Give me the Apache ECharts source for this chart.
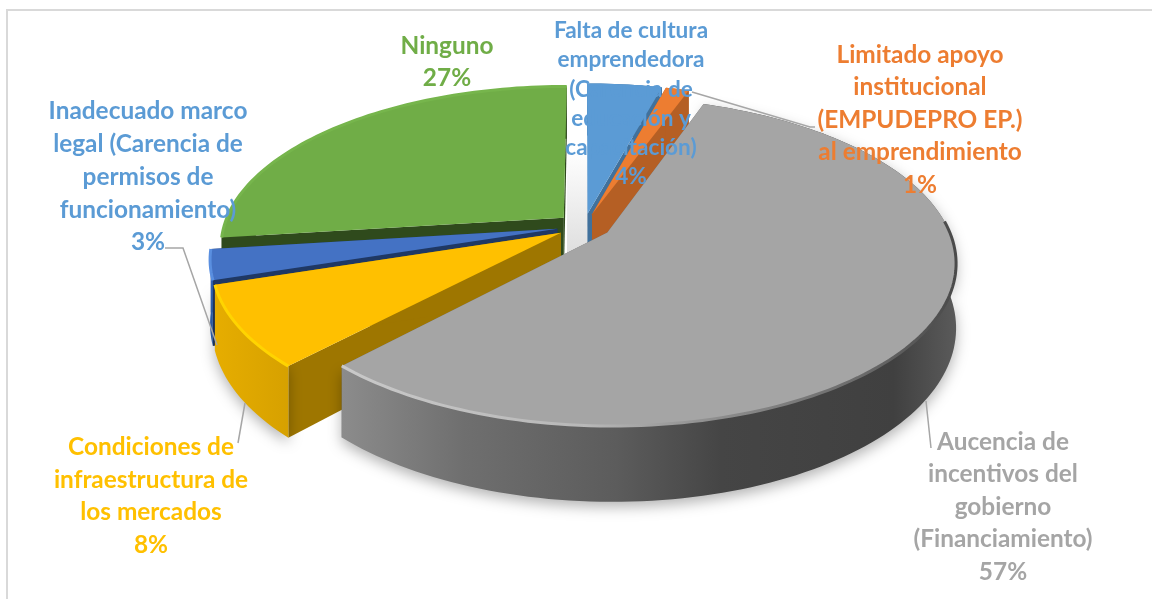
<!DOCTYPE html>
<html>
<head>
<meta charset="utf-8">
<style>
  html, body { margin: 0; padding: 0; background: #fff; }
  #main { width: 1152px; height: 599px; }
</style>
<script src="https://cdn.jsdelivr.net/npm/echarts@6/dist/echarts.min.js"></script>
</head>
<body>
<div id="main"></div>
<script>
// chart data, slice sizes, labels show them rounded
const categories = [
  "Falta de cultura\nemprendedora\n(Carencia de\neducación y\ncapacitación)",
  "Limitado apoyo\ninstitucional\n(EMPUDEPRO EP.)\nal emprendimiento",
  "Aucencia de\nincentivos del\ngobierno\n(Financiamiento)",
  "Condiciones de\ninfraestructura de\nlos mercados",
  "Inadecuado marco\nlegal (Carencia de\npermisos de\nfuncionamiento)",
  "Ninguno",
];
const percents = [4.2, 1.3, 56.5, 8, 3, 27];

// looks of each slice, same order as the data
const topColors = ["#5b9bd5", "#ed7d31", "#a5a5a5", "#ffc000", "#4472c4", "#70ad47"];
const rimColors = [null, null, null, "#ffd400", "#5a8fe0", "#76b54c"];
const radialColors = ["#41719c", "#b55f24", "#6a6a6a", "#9e7600", "#1f3864", "#2f4a1c"];
const wallColors = ["#41719c", "#b55f24", null, null, "#2f62b0", "#2f4a1c"];
const labelColors = ["#5b9bd5", "#ed7d31", "#a5a5a5", "#ffc000", "#5b9bd5", "#70ad47"];
const labelPos = [[631, 104], [920, 120], [1003, 507], [151, 496], [148, 177], [447, 62]];
const labelLine = [29.2, 32.5, 32.5, 32.7, 32.7, 32];
const labelSize = [22.6, 24.4, 24.4, 24.4, 24.4, 24.4];
const leaders = [
  null,
  [[692, 92], [810, 127], [815, 127]],
  [[926, 401], [931, 448]],
  [[245, 403], [238, 443]],
  [[165, 248], [183, 248], [217, 345]],
  null,
];
const drawOrder = [0, 1, 5, 4, 3, 2];

// pie geometry on screen
const cx = 584, cy = 226, rx = 340, ry = 157, persp = 0.175, depth = 62, explode = 0.08;

function project(px, py, z) {
  const s = 1 / (1 + persp * py);
  return [cx + rx * px * s, cy - ry * py * s + z * s];
}

function sliceAngles(i) {
  const total = percents.reduce((a, b) => a + b, 0);
  let sum = 0;
  for (let k = 0; k < i; k++) sum += percents[k];
  return [(sum / total) * Math.PI * 2, ((sum + percents[i]) / total) * Math.PI * 2];
}

function arcPoints(a0, a1, ex, ey, z) {
  const pts = [];
  const n = Math.max(8, Math.ceil((a1 - a0) * 40));
  for (let k = 0; k <= n; k++) {
    const a = a0 + ((a1 - a0) * k) / n;
    pts.push(project(Math.sin(a) + ex, Math.cos(a) + ey, z));
  }
  return pts;
}

function linear(x0, x1, stops) {
  return new echarts.graphic.LinearGradient(x0, 0, x1, 0, stops, true);
}

function renderSlice(params, api) {
  const i = api.value(0);
  const [a0, a1] = sliceAngles(i);
  const mid = (a0 + a1) / 2;
  const ex = Math.sin(mid) * explode;
  const ey = Math.cos(mid) * explode;
  const top = arcPoints(a0, a1, ex, ey, 0);
  const bottom = arcPoints(a0, a1, ex, ey, depth);
  const apexTop = project(ex, ey, 0);
  const apexBottom = project(ex, ey, depth);
  const first = top[0], firstB = bottom[0];
  const last = top[top.length - 1], lastB = bottom[bottom.length - 1];
  const children = [];

  let wallFill = wallColors[i];
  let rimStroke = rimColors[i];
  let rimPoints = top;
  if (i === 2) {
    wallFill = linear(340, 955, [
      { offset: 0, color: "#8c8c8c" },
      { offset: 0.2, color: "#6f6f6f" },
      { offset: 0.45, color: "#5c5c5c" },
      { offset: 0.62, color: "#454545" },
      { offset: 0.9, color: "#404040" },
      { offset: 1, color: "#5a5a5a" },
    ]);
    rimStroke = linear(340, 955, [
      { offset: 0, color: "#c9c9c9" },
      { offset: 0.4, color: "#b8b8b8" },
      { offset: 0.6, color: "#8f8f8f" },
      { offset: 0.85, color: "#6a6a6a" },
      { offset: 1, color: "#4a4a4a" },
    ]);
    // the bevel only shows on the near side of the big slice
    rimPoints = arcPoints(1.5, a1, ex, ey, 0);
  }
  if (i === 3) {
    wallFill = linear(215, 300, [
      { offset: 0, color: "#e6ad00" },
      { offset: 1, color: "#d49f00" },
    ]);
  }

  // the two cut faces
  [[first, firstB], [last, lastB]].forEach((edge) => {
    children.push({
      type: "polygon",
      shape: { points: [apexTop, edge[0], edge[1], apexBottom] },
      style: { fill: radialColors[i] },
    });
  });
  // outer wall, with a soft shadow under the big front slices
  const shadow = i === 2 || i === 3;
  children.push({
    type: "polygon",
    shape: { points: top.concat(bottom.slice().reverse()) },
    style: {
      fill: wallFill,
      shadowBlur: shadow ? 14 : 0,
      shadowColor: "rgba(0,0,0,0.3)",
      shadowOffsetY: shadow ? 5 : 0,
    },
  });
  // top of the slice
  children.push({
    type: "polygon",
    shape: { points: [apexTop].concat(top) },
    style: { fill: topColors[i] },
  });
  // bevel along the rim
  if (rimStroke) {
    children.push({
      type: "polyline",
      shape: { points: rimPoints },
      style: { fill: "none", stroke: rimStroke, lineWidth: 3 },
    });
  }
  return { type: "group", children };
}

function renderLabel(params, api) {
  const i = api.value(0);
  const children = [];
  if (leaders[i]) {
    children.push({
      type: "polyline",
      shape: { points: leaders[i] },
      style: { fill: "none", stroke: "#a6a6a6", lineWidth: 1.5 },
    });
  }
  children.push({
    type: "text",
    style: {
      x: labelPos[i][0],
      y: labelPos[i][1],
      text: categories[i] + "\n" + Math.round(percents[i]) + "%",
      fill: labelColors[i],
      font: "700 " + labelSize[i] + "px Lato",
      lineHeight: labelLine[i],
      align: "center",
      verticalAlign: "middle",
    },
  });
  return { type: "group", children };
}

const myChart = echarts.init(document.getElementById("main"), null, { renderer: "canvas" });
myChart.setOption({
  animation: false,
  backgroundColor: "#fff",
  graphic: [
    { type: "rect", shape: { x: 6, y: 9, width: 1146, height: 2 }, style: { fill: "#d9d9d9" }, silent: true },
    { type: "rect", shape: { x: 6, y: 9, width: 2, height: 590 }, style: { fill: "#d9d9d9" }, silent: true },
    {
      type: "rect",
      shape: { x: 567, y: 150, width: 22, height: 112 },
      style: {
        fill: new echarts.graphic.LinearGradient(0, 0, 0, 1, [
          { offset: 0, color: "#ffffff" },
          { offset: 1, color: "#dcdcdc" },
        ]),
      },
      silent: true,
    },
  ],
  series: [
    { type: "custom", coordinateSystem: "none", z: 2, silent: true, data: drawOrder.map((i) => [i]), renderItem: renderSlice },
    { type: "custom", coordinateSystem: "none", z: 3, silent: true, data: percents.map((v, i) => [i]), renderItem: renderLabel },
  ],
});
</script>
</body>
</html>
